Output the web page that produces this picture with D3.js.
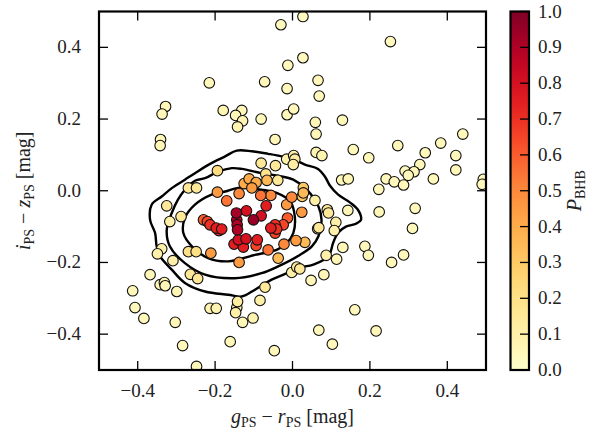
<!DOCTYPE html>
<html>
<head>
<meta charset="utf-8">
<script src="https://cdn.jsdelivr.net/npm/d3@7"></script>
<style>
  body { margin: 0; background: #fff; }
</style>
</head>
<body>
<div id="chart"></div>
<script>
// colour g-r, colour i-z, and BHB probability of every star
var gr = [-0.030,-0.012,-0.215,-0.072,-0.014,-0.328,-0.337,-0.179,-0.131,-0.147,-0.129,-0.142,-0.081,-0.014,0.003,
  -0.341,-0.342,-0.045,-0.081,-0.044,-0.015,0.003,-0.194,-0.069,-0.038,-0.066,-0.269,-0.248,0.027,0.253,
  0.027,0.066,0.069,0.059,0.129,0.061,0.440,0.383,0.272,0.157,0.343,0.061,0.076,0.197,0.422,
  0.006,0.002,0.329,0.291,0.314,0.299,0.422,0.364,0.242,0.263,0.287,0.223,0.127,0.144,0.493,
  0.490,0.028,0.028,0.025,0.058,0.090,0.093,0.143,0.224,0.317,0.112,0.108,0.065,0.068,0.310,
  0.130,0.187,0.196,0.087,0.114,0.256,0.287,0.011,0.019,-0.002,0.081,0.048,0.161,0.068,0.216,
  0.103,-0.325,-0.288,-0.317,-0.338,-0.349,-0.309,-0.368,-0.342,-0.331,-0.329,-0.413,-0.299,-0.264,-0.245,
  -0.407,-0.384,-0.303,-0.284,-0.248,-0.213,-0.197,-0.142,-0.144,-0.147,-0.129,-0.102,-0.084,-0.071,-0.161,
  -0.047,-0.269,-0.249,-0.125,-0.112,-0.094,-0.105,-0.194,-0.138,-0.170,-0.082,-0.056,-0.015,-0.002,-0.068,
  -0.145,-0.119,-0.081,-0.101,-0.144,-0.230,-0.220,-0.213,-0.197,-0.183,-0.143,-0.142,-0.190,-0.045,-0.041,
  -0.056,-0.024,-0.045,-0.140,-0.120,-0.151,-0.127,-0.091,-0.094,-0.063,-0.211,-0.138,-0.037,-0.013,0.024,
  -0.022,0.009,0.032];
var iz = [0.463,0.350,0.301,0.304,0.285,0.235,0.214,0.224,0.224,0.210,0.195,0.178,0.200,0.212,0.228,
  0.143,0.126,0.143,0.077,0.070,0.088,0.098,0.056,0.047,0.029,0.029,0.008,0.008,0.486,0.416,
  0.371,0.308,0.264,0.191,0.197,0.158,0.158,0.133,0.126,0.115,0.106,0.107,0.098,0.092,0.098,
  0.088,0.073,0.073,0.055,0.053,0.043,0.058,0.033,0.033,0.025,0.016,0.004,0.030,0.033,0.032,
  0.018,0.009,-0.006,-0.016,-0.027,-0.053,-0.062,-0.055,-0.059,-0.049,-0.088,-0.111,-0.106,-0.103,-0.105,
  -0.158,-0.155,-0.180,-0.180,-0.191,-0.200,-0.179,-0.213,-0.218,-0.228,-0.234,-0.250,-0.332,-0.389,-0.391,
  -0.428,-0.042,-0.072,-0.086,-0.162,-0.176,-0.195,-0.234,-0.262,-0.256,-0.265,-0.279,-0.281,-0.233,-0.245,
  -0.326,-0.356,-0.367,-0.432,-0.490,-0.328,-0.328,-0.309,-0.326,-0.340,-0.367,-0.355,-0.306,-0.269,-0.421,
  -0.446,-0.170,-0.170,0.020,0.033,0.023,0.008,-0.004,-0.008,-0.028,-0.013,-0.013,-0.039,-0.018,-0.042,
  -0.062,-0.056,-0.070,-0.081,-0.081,-0.081,-0.086,-0.095,-0.104,-0.107,-0.095,-0.109,-0.111,-0.095,-0.107,
  -0.104,-0.095,-0.118,-0.137,-0.134,-0.149,-0.157,-0.137,-0.153,-0.165,-0.174,-0.200,-0.188,-0.076,-0.060,
  -0.149,-0.139,-0.144];
var pBHB = [0.04,0.04,0.05,0.05,0.05,0.06,0.06,0.07,0.06,0.06,0.07,0.08,0.05,0.05,0.05,
  0.06,0.06,0.06,0.15,0.15,0.10,0.10,0.22,0.18,0.15,0.35,0.15,0.15,0.04,0.04,
  0.04,0.05,0.05,0.06,0.05,0.06,0.05,0.05,0.05,0.05,0.05,0.08,0.08,0.05,0.05,
  0.12,0.12,0.05,0.05,0.05,0.05,0.05,0.05,0.05,0.05,0.05,0.05,0.06,0.06,0.05,
  0.05,0.30,0.35,0.30,0.10,0.15,0.15,0.06,0.05,0.05,0.10,0.10,0.15,0.15,0.05,
  0.06,0.05,0.05,0.10,0.06,0.05,0.05,0.15,0.15,0.10,0.06,0.06,0.05,0.05,0.05,
  0.05,0.15,0.15,0.10,0.10,0.10,0.10,0.06,0.06,0.06,0.06,0.05,0.06,0.15,0.15,
  0.05,0.05,0.06,0.05,0.05,0.08,0.08,0.12,0.10,0.10,0.06,0.08,0.10,0.15,0.05,
  0.05,0.20,0.20,0.40,0.40,0.40,0.45,0.45,0.50,0.55,0.55,0.50,0.45,0.50,0.75,
  0.92,0.80,0.80,0.95,0.90,0.60,0.65,0.70,0.75,0.75,0.90,0.90,0.70,0.70,0.70,
  0.75,0.65,0.65,0.80,0.80,0.75,0.75,0.75,0.65,0.55,0.45,0.45,0.35,0.60,0.45,
  0.50,0.45,0.35];

// density contours (g-r, i-z)
var contourOuter = [[-0.338,-0.016],[-0.311,0.008],[-0.278,0.031],[-0.252,0.049],[-0.213,0.075],[-0.174,0.096],
  [-0.144,0.112],[-0.105,0.110],[-0.063,0.103],[-0.028,0.096],[0.006,0.086],[0.032,0.073],[0.066,0.061],
  [0.084,0.039],[0.097,0.014],[0.118,-0.011],[0.149,-0.033],[0.169,-0.053],[0.177,-0.081],[0.164,-0.092],
  [0.138,-0.100],[0.118,-0.117],[0.105,-0.145],[0.094,-0.181],[0.054,-0.206],[0.015,-0.215],[-0.019,-0.232],
  [-0.054,-0.248],[-0.097,-0.276],[-0.131,-0.295],[-0.166,-0.290],[-0.226,-0.281],[-0.278,-0.257],
  [-0.312,-0.220],[-0.342,-0.183],[-0.351,-0.155],[-0.355,-0.118],[-0.368,-0.081],[-0.364,-0.039]];
var contourMid = [[-0.278,0.003],[-0.252,0.028],[-0.226,0.035],[-0.193,0.053],[-0.157,0.063],[-0.131,0.061],
  [-0.080,0.049],[-0.028,0.040],[0.002,0.031],[0.037,0.003],[0.067,-0.044],[0.075,-0.081],[0.067,-0.127],
  [0.050,-0.155],[0.019,-0.179],[-0.037,-0.211],[-0.080,-0.230],[-0.149,-0.244],[-0.226,-0.234],
  [-0.278,-0.202],[-0.317,-0.155],[-0.325,-0.109],[-0.312,-0.062],[-0.296,-0.025]];
var contourInner = [[-0.252,-0.039],[-0.209,-0.011],[-0.174,-0.002],[-0.140,0.008],[-0.080,0.003],[-0.041,-0.006],
  [-0.006,-0.030],[0.006,-0.072],[0.002,-0.118],[-0.015,-0.146],[-0.041,-0.165],[-0.097,-0.179],
  [-0.166,-0.197],[-0.218,-0.188],[-0.260,-0.155],[-0.282,-0.118],[-0.278,-0.076]];

var xTicks = [-0.4, -0.2, 0.0, 0.2, 0.4];
var yTicks = [-0.4, -0.2, 0.0, 0.2, 0.4];
var cTicks = [0, 0.1, 0.2, 0.3, 0.4, 0.5, 0.6, 0.7, 0.8, 0.9, 1.0];

var W = 595, H = 440;
var plot = {left: 99, right: 486, top: 11.5, bottom: 370};
var cbar = {left: 510.5, right: 529, top: 11.5, bottom: 370};

var svg = d3.select("#chart").append("svg")
    .attr("width", W).attr("height", H)
    .attr("font-family", "'Liberation Serif', 'DejaVu Serif', serif")
    .style("font-family", "'Liberation Serif', 'DejaVu Serif', serif");

var x = d3.scaleLinear().domain([-0.5, 0.5]).range([plot.left, plot.right]);
var y = d3.scaleLinear().domain([-0.5, 0.5]).range([plot.bottom, plot.top]);
var color = d3.scaleSequential(d3.interpolateYlOrRd).domain([0, 1]);
var fmt = d3.format(".1f");

// clip for the plotting area
svg.append("clipPath").attr("id", "clip")
  .append("rect")
    .attr("x", plot.left).attr("y", plot.top)
    .attr("width", plot.right - plot.left).attr("height", plot.bottom - plot.top);

var inner = svg.append("g").attr("clip-path", "url(#clip)");

// contours
var line = d3.line()
    .x(function(d) { return x(d[0]); })
    .y(function(d) { return y(d[1]); })
    .curve(d3.curveCatmullRomClosed.alpha(0.5));

[contourOuter, contourMid, contourInner].forEach(function(c) {
  inner.append("path")
    .attr("d", line(c))
    .attr("fill", "none")
    .attr("stroke", "#000")
    .attr("stroke-width", 2.4);
});

// stars, low probability first so red ones sit on top
var stars = gr.map(function(d, i) { return {gr: d, iz: iz[i], p: pBHB[i]}; })
  .sort(function(a, b) { return a.p - b.p; });

inner.append("g").selectAll("circle")
  .data(stars)
  .enter()
  .append("circle")
    .attr("cx", function(d) { return x(d.gr); })
    .attr("cy", function(d) { return y(d.iz); })
    .attr("r", 5.3)
    .attr("fill", function(d) { return color(d.p); })
    .attr("stroke", "#111")
    .attr("stroke-width", 1.1);

// frame + inward ticks on all four sides
var tickLen = 9;
var axes = svg.append("g").attr("stroke", "#000").attr("stroke-width", 1.3);
xTicks.forEach(function(t) {
  axes.append("line").attr("x1", x(t)).attr("x2", x(t)).attr("y1", plot.bottom).attr("y2", plot.bottom - tickLen);
  axes.append("line").attr("x1", x(t)).attr("x2", x(t)).attr("y1", plot.top).attr("y2", plot.top + tickLen);
});
yTicks.forEach(function(t) {
  axes.append("line").attr("y1", y(t)).attr("y2", y(t)).attr("x1", plot.left).attr("x2", plot.left + tickLen);
  axes.append("line").attr("y1", y(t)).attr("y2", y(t)).attr("x1", plot.right).attr("x2", plot.right - tickLen);
});
svg.append("rect")
  .attr("x", plot.left).attr("y", plot.top)
  .attr("width", plot.right - plot.left).attr("height", plot.bottom - plot.top)
  .attr("fill", "none").attr("stroke", "#000").attr("stroke-width", 2.2);

// tick labels
svg.append("g").selectAll("text")
  .data(xTicks).enter().append("text")
    .attr("x", function(d) { return x(d); })
    .attr("y", 397)
    .attr("text-anchor", "middle")
    .attr("font-size", 19)
    .attr("fill", "#222")
    .text(function(d) { return fmt(d); });

svg.append("g").selectAll("text")
  .data(yTicks).enter().append("text")
    .attr("x", 81)
    .attr("y", function(d) { return y(d) + 6; })
    .attr("text-anchor", "end")
    .attr("font-size", 19)
    .attr("fill", "#222")
    .text(function(d) { return fmt(d); });

// axis labels
function subLabel(g, main, sub, main2, sub2, tail) {
  var t = g.append("text").attr("font-size", 20).attr("text-anchor", "middle").attr("fill", "#222");
  t.append("tspan").attr("font-style", "italic").text(main);
  t.append("tspan").attr("font-size", 14).attr("dy", 4).text(sub);
  t.append("tspan").attr("dy", -4).text(" \u2212 ");
  t.append("tspan").attr("font-style", "italic").text(main2);
  t.append("tspan").attr("font-size", 14).attr("dy", 4).text(sub2);
  t.append("tspan").attr("dy", -4).text(" " + tail);
  return t;
}
subLabel(svg.append("g").attr("transform", "translate(" + x(0) + ",423)"), "g", "PS", "r", "PS", "[mag]");
subLabel(svg.append("g").attr("transform", "translate(30," + y(0) + ") rotate(-90)"), "i", "PS", "z", "PS", "[mag]");

// colour bar
var defs = svg.append("defs");
var grad = defs.append("linearGradient").attr("id", "cbgrad")
    .attr("x1", 0).attr("y1", 1).attr("x2", 0).attr("y2", 0);
d3.range(0, 1.0001, 0.05).forEach(function(v) {
  grad.append("stop").attr("offset", v).attr("stop-color", color(v));
});
var cy = d3.scaleLinear().domain([0, 1]).range([cbar.bottom, cbar.top]);

svg.append("rect")
  .attr("x", cbar.left).attr("y", cbar.top)
  .attr("width", cbar.right - cbar.left).attr("height", cbar.bottom - cbar.top)
  .attr("fill", "url(#cbgrad)");

svg.append("g").attr("stroke", "#000").attr("stroke-width", 1.3)
  .selectAll("line").data(cTicks).enter().append("line")
    .attr("x1", cbar.right).attr("x2", cbar.right - 9)
    .attr("y1", function(d) { return cy(d); }).attr("y2", function(d) { return cy(d); });

svg.append("rect")
  .attr("x", cbar.left).attr("y", cbar.top)
  .attr("width", cbar.right - cbar.left).attr("height", cbar.bottom - cbar.top)
  .attr("fill", "none").attr("stroke", "#000").attr("stroke-width", 2.2);

svg.append("g").selectAll("text")
  .data(cTicks).enter().append("text")
    .attr("x", 538)
    .attr("y", function(d) { return cy(d) + 6; })
    .attr("font-size", 19)
    .attr("fill", "#222")
    .text(function(d) { return fmt(d); });

var cl = svg.append("text")
  .attr("transform", "translate(581," + cy(0.5) + ") rotate(-90)")
  .attr("text-anchor", "middle")
  .attr("font-size", 20)
  .attr("fill", "#222");
cl.append("tspan").attr("font-style", "italic").text("P");
cl.append("tspan").attr("font-size", 14).attr("dy", 4).text("BHB");
</script>
</body>
</html>
